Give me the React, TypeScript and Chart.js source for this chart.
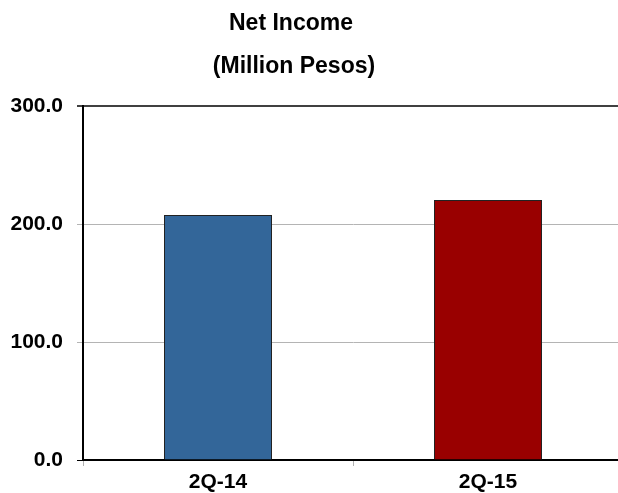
import React, { useEffect, useRef } from "react";
import { Chart, registerables } from "chart.js";

Chart.register(...registerables);

const categories = ["2Q-14", "2Q-15"];
const netIncome = [207.6, 220.3];
const barColors = ["#336699", "#990000"];
const titleLines = ["Net Income", "(Million Pesos)"];
const yMin = 0;
const yMax = 300;
const yStep = 100;

const FONT = "'Liberation Sans', Arial, Helvetica, sans-serif";

const titlePlugin = {
  id: "customTitle",
  afterDraw(chart: any) {
    const ctx = chart.ctx;
    ctx.save();
    ctx.fillStyle = "#000";
    ctx.font = `bold 23px ${FONT}`;
    ctx.textAlign = "center";
    ctx.textBaseline = "middle";
    ctx.fillText(titleLines[0], 291, 24);
    ctx.fillText(titleLines[1], 294, 67);
    ctx.restore();
  },
};

const gridColor = (c: any) =>
  c.tick && c.tick.value === yMax ? "#404040" : c.tick && c.tick.value === 0 ? "#000000" : "#b4b4b4";

export default function App() {
  const ref = useRef<HTMLCanvasElement | null>(null);
  useEffect(() => {
    if (!ref.current) return;
    const chart = new Chart(ref.current, {
      type: "bar",
      data: {
        labels: categories,
        datasets: [
          {
            data: netIncome,
            backgroundColor: barColors,
            borderColor: "#222222",
            borderWidth: 1,
            barPercentage: 1,
            categoryPercentage: 0.4,
          },
        ],
      },
      options: {
        animation: false,
        responsive: false,
        maintainAspectRatio: false,
        layout: { padding: { top: 106, right: 17, left: 0, bottom: 0 } },
        plugins: { legend: { display: false }, title: { display: false }, tooltip: { enabled: false } },
        scales: {
          x: {
            afterFit: (s: any) => {
              s.height = 33;
            },
            border: { display: true, color: "#000", width: 2 },
            grid: {
              drawOnChartArea: false,
              drawTicks: true,
              tickLength: 6,
              color: "rgba(0,0,0,0)",
              tickColor: "#b0b0b0",
              offset: true,
            },
            ticks: {
              color: "#000",
              padding: 4,
              font: { family: FONT, size: 21, weight: "bold" },
            },
          },
          y: {
            min: yMin,
            max: yMax,
            afterFit: (s: any) => {
              s.width = 83;
            },
            border: { display: true, color: "#000", width: 2 },
            grid: {
              drawTicks: true,
              tickLength: 6,
              color: gridColor,
              tickColor: gridColor,
              lineWidth: (c: any) => (c.tick && c.tick.value === yMax ? 2 : 1),
            },
            ticks: {
              stepSize: yStep,
              color: "#000",
              padding: 14,
              font: { family: FONT, size: 21, weight: "bold" },
              callback: (v: any) => Number(v).toFixed(1),
            },
          },
        },
      },
      plugins: [titlePlugin],
    });
    return () => chart.destroy();
  }, []);
  return (
    <div style={{ position: "fixed", left: 0, top: 0, width: 618, height: 493, overflow: "hidden", background: "#fff" }}>
      <canvas ref={ref} width={640} height={493} style={{ display: "block", width: 640, height: 493 }} />
    </div>
  );
}
